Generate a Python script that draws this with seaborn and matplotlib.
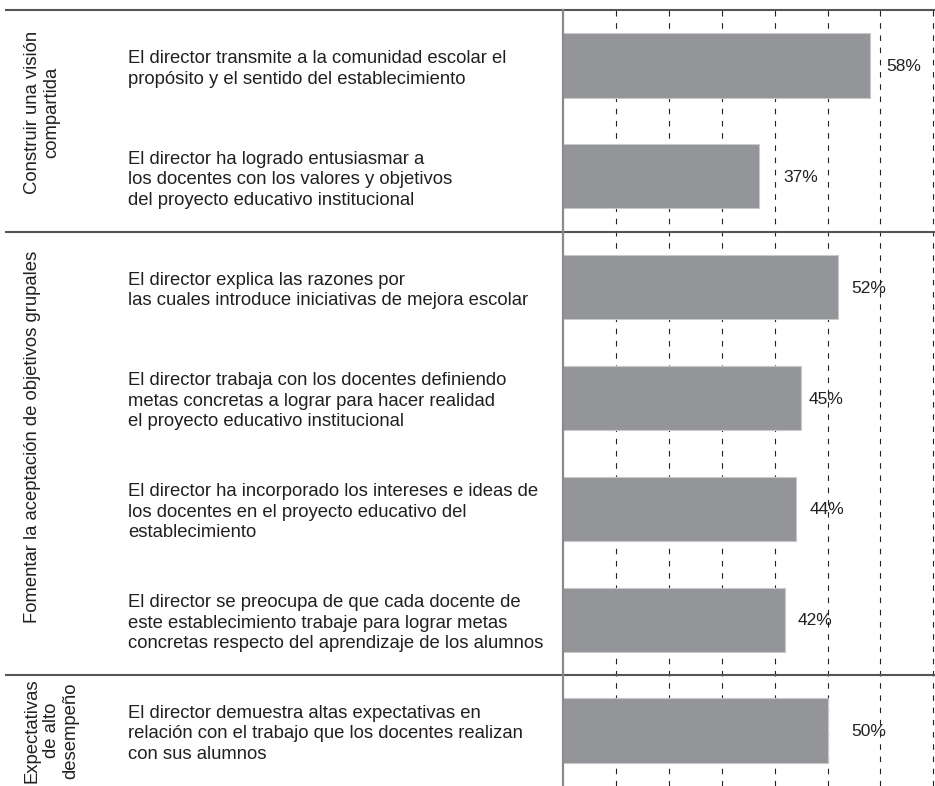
import matplotlib
matplotlib.use("Agg")
import matplotlib.pyplot as plt
import matplotlib.transforms as mtransforms
import seaborn as sns
import pandas as pd

# Datos del gráfico
grupos = [
    "Construir una visión\ncompartida",
    "Fomentar la aceptación de objetivos grupales",
    "Expectativas\nde alto\ndesempeño",
]
grupo_filas = [(0, 1), (2, 5), (6, 6)]

afirmaciones = [
    "El director transmite a la comunidad escolar el\npropósito y el sentido del establecimiento",
    "El director ha logrado entusiasmar a\nlos docentes con los valores y objetivos\ndel proyecto educativo institucional",
    "El director explica las razones por\nlas cuales introduce iniciativas de mejora escolar",
    "El director trabaja con los docentes definiendo\nmetas concretas a lograr para hacer realidad\nel proyecto educativo institucional",
    "El director ha incorporado los intereses e ideas de\nlos docentes en el proyecto educativo del\nestablecimiento",
    "El director se preocupa de que cada docente de\neste establecimiento trabaje para lograr metas\nconcretas respecto del aprendizaje de los alumnos",
    "El director demuestra altas expectativas en\nrelación con el trabajo que los docentes realizan\ncon sus alumnos",
]
porcentajes = [58, 37, 52, 45, 44, 42, 50]
etiquetas = ["58%", "37%", "52%", "45%", "44%", "42%", "50%"]

# desplazamiento de cada etiqueta respecto del final de la barra (en puntos %)
desplaz = [6.3, 7.9, 5.7, 4.8, 5.8, 5.7, 7.7]
# pequeño ajuste vertical de los nombres de grupo (en filas)
ajuste_grupo = [-0.08, -0.15, 0.0]

df = pd.DataFrame({"afirmacion": afirmaciones, "porcentaje": porcentajes})

sns.set_style("white")
plt.rcParams["font.family"] = ["Liberation Sans", "DejaVu Sans"]

texto = "#231f20"
gris_barra = "#939598"

fig = plt.figure(figsize=(9.35, 7.86), dpi=100)
W, H = 935, 786
ax = fig.add_axes([563 / W, 0, 1 - 563 / W, 776 / H])

sns.barplot(data=df, x="porcentaje", y="afirmacion", orient="h",
            color=gris_barra, saturation=1, width=0.58,
            edgecolor="#c9c9cb", linewidth=0.8, ax=ax)

ax.set_xlim(0, 70.3)
ax.set_ylim(6.5, -0.5)
ax.set_xticks(range(10, 71, 10))
ax.set_axisbelow(True)
ax.grid(axis="x", color="#222222", linestyle=(0, (5, 6)), linewidth=0.8)
ax.grid(axis="y", visible=False)
ax.tick_params(left=False, bottom=False, labelleft=False, labelbottom=False)
ax.set_xlabel("")
ax.set_ylabel("")
for lado in ["top", "right", "bottom"]:
    ax.spines[lado].set_visible(False)
ax.spines["left"].set_color("#8a8a8a")
ax.spines["left"].set_linewidth(1.6)

# etiquetas de porcentaje
for i, (v, et) in enumerate(zip(porcentajes, etiquetas)):
    ax.text(v + desplaz[i], i + 0.01, et, ha="center", va="center",
            fontsize=12.5, color=texto)

# textos de las afirmaciones (a la izquierda)
trans = mtransforms.blended_transform_factory(fig.transFigure, ax.transData)
for i, t in enumerate(afirmaciones):
    ax.text(128 / W, i + 0.03, t, transform=trans, ha="left", va="center",
            fontsize=13.3, color=texto, linespacing=1.27, clip_on=False)

# nombres de los grupos (rotados)
for g, (a, b), dy in zip(grupos, grupo_filas, ajuste_grupo):
    ax.text(24 / W, (a + b) / 2 + dy, g, transform=trans, rotation=90,
            ha="left", va="center", multialignment="center",
            fontsize=13.3, color=texto, linespacing=1.15, clip_on=False)

# líneas separadoras
ysep = [-0.5, 1.5, 5.5]
for y in ysep:
    ax.plot([5 / W, 1], [y, y], transform=trans, color="#555555",
            linewidth=1.5, clip_on=False, solid_capstyle="butt")

plt.savefig("out.png", dpi=100)
